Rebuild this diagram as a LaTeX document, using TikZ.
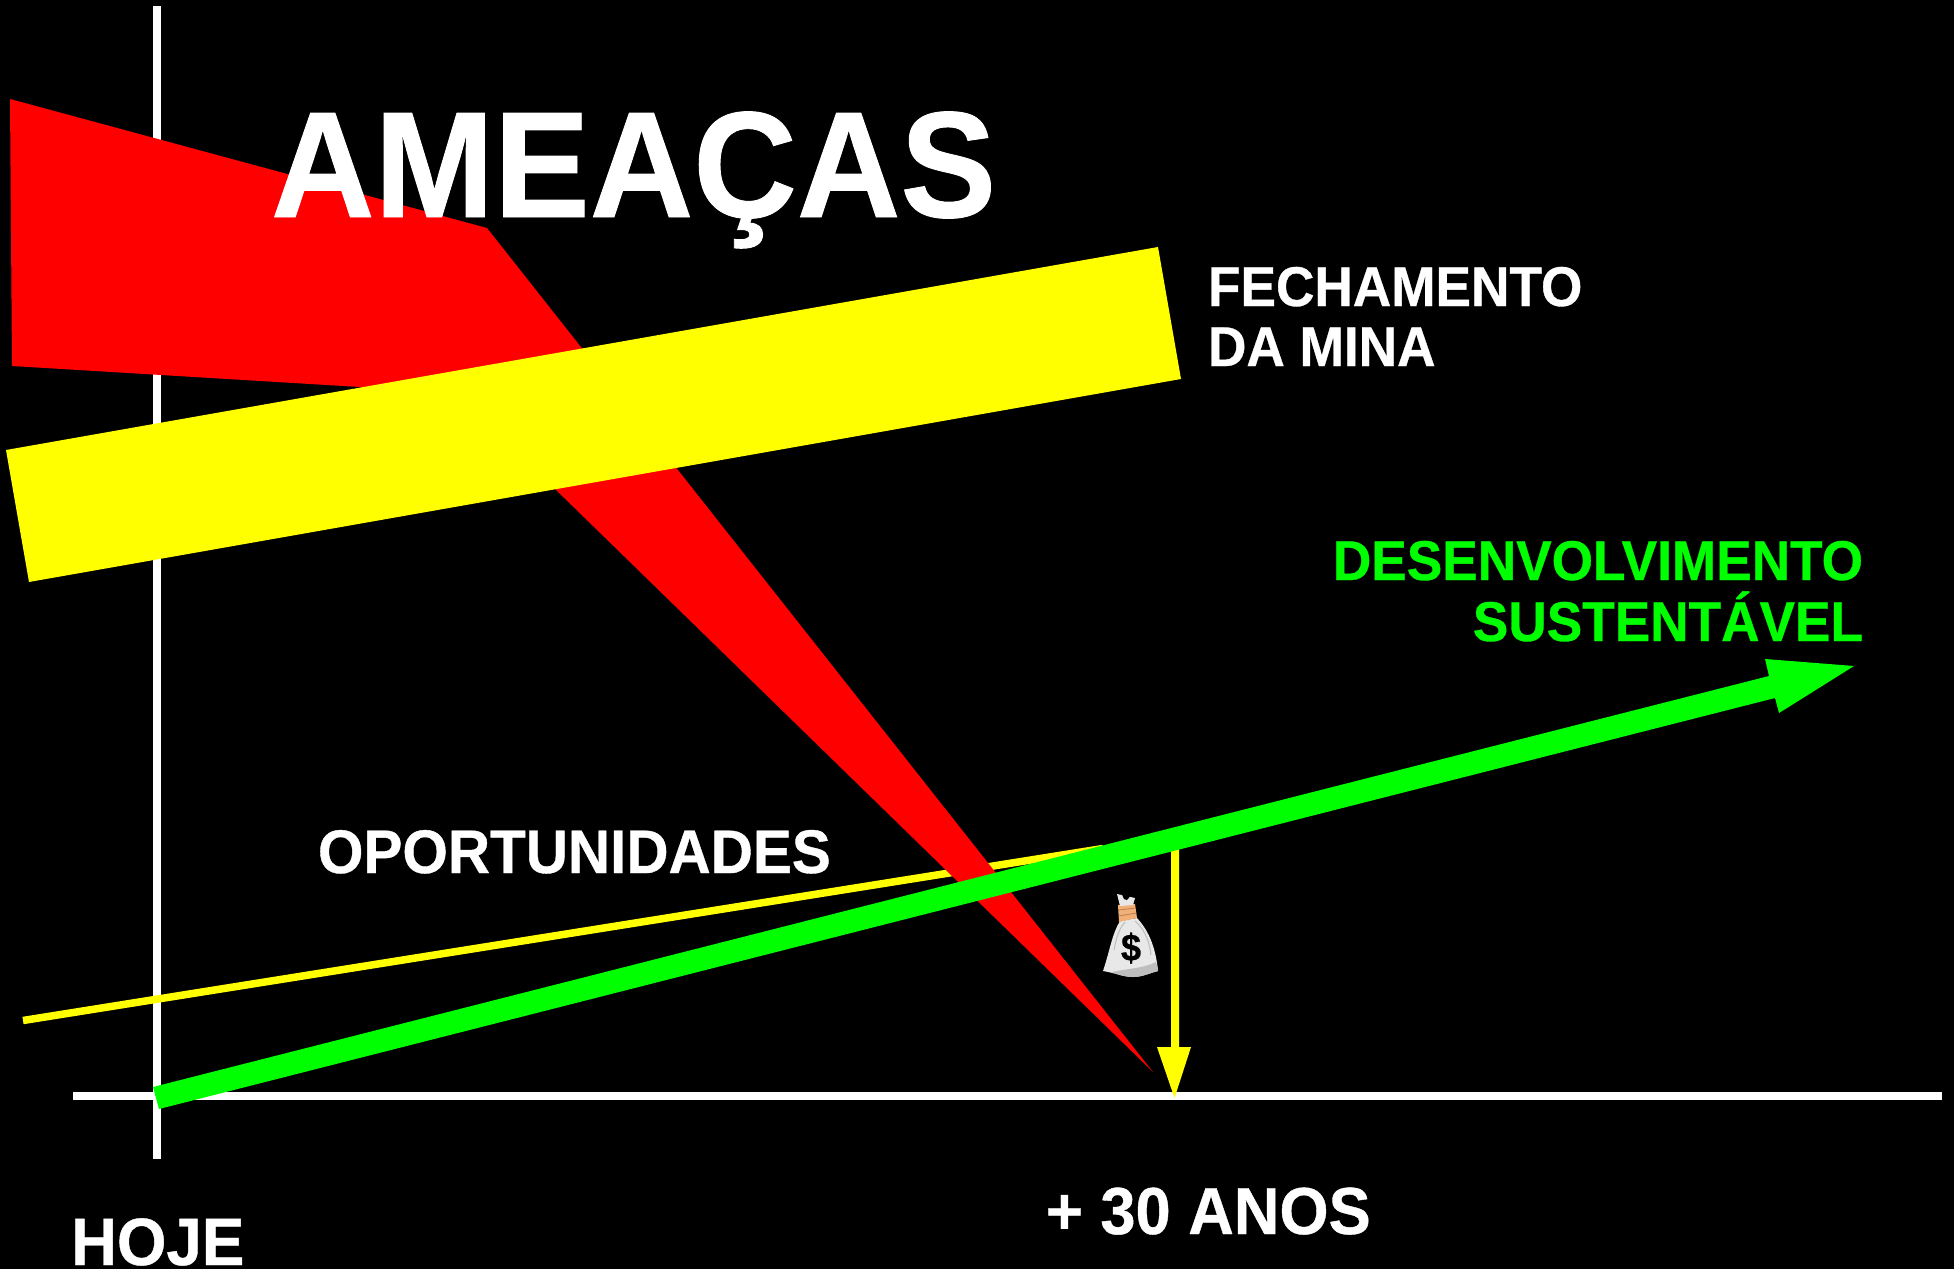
\documentclass[tikz,border=0pt]{standalone}
\usepackage{fontspec}
\newfontfamily\lblfont{Liberation Sans Bold}[FakeStretch=0.95,FakeBold=0.6]
\definecolor{ylw}{RGB}{255,255,0}
\definecolor{grn}{RGB}{0,255,0}
\definecolor{rd}{RGB}{255,0,0}
\definecolor{rope}{RGB}{240,176,120}
\definecolor{ropeline}{RGB}{190,125,75}
\definecolor{sack}{RGB}{232,232,232}
\definecolor{sackshade}{RGB}{190,190,190}
\tikzset{
  lbl/.style={inner sep=0pt,outer sep=0pt,text=white},
  axisline/.style={draw=white,line width=8pt},
}
\begin{document}
\begin{tikzpicture}[x=1pt,y=-1pt]
\useasboundingbox (0,0) rectangle (1954,1269);
\fill[black] (0,0) rectangle (1954,1269);
\clip (0,0) rectangle (1954,1269);
% axes
\coordinate (vtop) at (157,6);
\coordinate (vbot) at (157,1159);
\coordinate (hleft) at (73,1096);
\coordinate (hright) at (1942,1096);
\draw[axisline] (vtop) -- (vbot);
\draw[axisline] (hleft) -- (hright);
% thin yellow line
\coordinate (oppstart) at (23,1020.5);
\coordinate (oppend) at (1103,848.5);
\draw[ylw,line width=7.5pt] (oppstart) -- (oppend);
% vertical yellow arrow
\fill[ylw] (1171,848) -- (1179,848) -- (1179,1047) -- (1191,1047) -- (1174.5,1098) -- (1157,1047) -- (1171,1047) -- cycle;
% red wedge
\fill[rd] (10,99) -- (487,228) -- (1153,1072) -- (554,488) -- (360,387) -- (12,366) -- cycle;
% yellow band
\fill[ylw] (1158,247) -- (1181,379) -- (29,582) -- (6,450) -- cycle;
% green arrow
\fill[grn] (153,1087) -- (1769,676) -- (1765,659) -- (1854,666) -- (1779,713) -- (1775,698) -- (159,1109) -- cycle;
% money bag
\fill[sack] (1120,921) .. controls (1112,934) and (1110,950) .. (1103,971)
  .. controls (1115,973) and (1125,977) .. (1133,977)
  .. controls (1142,977) and (1150,973) .. (1158,971)
  .. controls (1156,950) and (1150,932) .. (1137,918) -- cycle;
\fill[sackshade] (1112,972) .. controls (1125,969) and (1145,968) .. (1156,962)
  .. controls (1157,966) and (1158,968) .. (1158,971)
  .. controls (1150,973) and (1142,977) .. (1133,977)
  .. controls (1125,977) and (1118,975) .. (1112,972) -- cycle;
\draw[sackshade,line width=1pt] (1125,922) .. controls (1118,930) and (1116,940) .. (1114,950);
\draw[sackshade,line width=1pt] (1135,921) .. controls (1146,930) and (1150,945) .. (1151,955);
\fill[rope] (1118,905) -- (1135,904) -- (1137,918) -- (1119,922) -- cycle;
\draw[ropeline,line width=.8pt] (1118.5,910) -- (1136,908) (1119,916) -- (1136.5,913);
\fill[sack] (1117,894) -- (1135,898) -- (1133,905) -- (1120,906) -- cycle;
\fill[black] (1122,894.5) -- (1130,896.5) -- (1127,900) -- (1124,899) -- cycle;
\node[lbl,text=black,font=\lblfont\fontsize{38}{38}\selectfont,anchor=center] (dollar) at (1131,948) {\$};
% texts
\node[lbl,font=\lblfont\fontsize{151}{151}\selectfont,anchor=base west] (ameacas) at (271,217) {AMEAÇAS};
\node[lbl,font=\lblfont\fontsize{56}{60}\selectfont,align=left,anchor=base west] (fech) at (1208,366) {FECHAMENTO\\DA MINA};
\node[lbl,text=grn,font=\lblfont\fontsize{56}{61}\selectfont,align=right,anchor=base east] (dev) at (1863,641) {DESENVOLVIMENTO\\SUSTENTÁVEL};
\node[lbl,font=\lblfont\fontsize{61.5}{61.5}\selectfont,anchor=base west] (opp) at (318,873) {OPORTUNIDADES};
\node[lbl,font=\lblfont\fontsize{66.5}{66.5}\selectfont,anchor=base west] (anos) at (1046,1234) {+ 30 ANOS};
\node[lbl,font=\lblfont\fontsize{67}{67}\selectfont,anchor=base west] (hoje) at (71,1265) {HOJE};
\end{tikzpicture}
\end{document}
